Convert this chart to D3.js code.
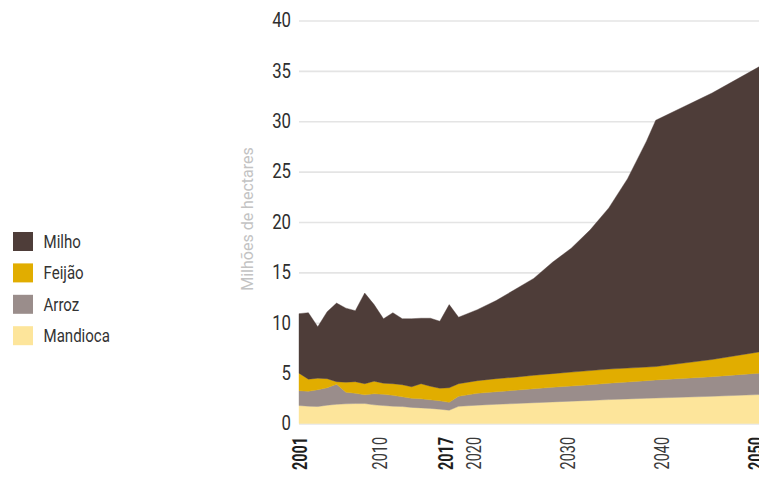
<!DOCTYPE html>
<html>
<head>
<meta charset="utf-8">
<script src="https://cdn.jsdelivr.net/npm/d3@7/dist/d3.min.js"></script>
<style>
  html, body { margin: 0; padding: 0; background: #fff; }
  svg { display: block; }
</style>
</head>
<body>
<svg id="chart" width="759" height="479"></svg>
<script>
// ---- Data (millions of hectares) ----
const years    = [2001,2002,2003,2004,2005,2006,2007,2008,2009,2010,2011,2012,2013,2014,2015,2016,2017,2018,
                  2020,2022,2024,2026,2028,2030,2032,2034,2036,2038,2039,2045,2050];
const milho    = [5.9,6.6,5.1,6.65,7.8,7.35,7.05,9.0,7.6,6.4,7.05,6.55,6.75,6.5,6.75,6.65,8.25,6.6,
                  7.05,7.75,8.7,9.62,11.05,12.3,13.95,16.0,18.8,22.4,24.45,26.45,28.3];
const feijao   = [1.75,1.2,1.15,0.9,0.25,1.0,1.15,1.1,1.25,1.1,1.15,1.2,1.15,1.5,1.35,1.25,1.45,1.25,
                  1.25,1.3,1.3,1.33,1.35,1.38,1.4,1.4,1.38,1.35,1.33,1.7,2.1];
const arroz    = [1.47,1.48,1.67,1.73,2.0,1.15,1.02,0.87,1.1,1.12,1.08,0.97,0.9,0.9,0.85,0.83,0.78,1.0,
                  1.18,1.25,1.32,1.39,1.46,1.5,1.56,1.63,1.68,1.75,1.79,1.95,2.13];
const mandioca = [1.78,1.72,1.68,1.82,1.9,1.95,1.98,1.98,1.85,1.78,1.72,1.68,1.6,1.55,1.5,1.42,1.32,1.7,
                  1.82,1.9,1.98,2.06,2.14,2.22,2.29,2.37,2.44,2.5,2.53,2.7,2.87];

const seriesKeys   = ["Mandioca", "Arroz", "Feijão", "Milho"];           // stack order (bottom → top)
const legendKeys   = ["Milho", "Feijão", "Arroz", "Mandioca"];           // legend order (top → bottom)
const seriesColors = {"Milho": "#4e3d39", "Feijão": "#e1ad00", "Arroz": "#9a8d8b", "Mandioca": "#fde59b"};
const yTicks       = [0, 5, 10, 15, 20, 25, 30, 35, 40];
const xTicks       = [2001, 2010, 2017, 2020, 2030, 2040, 2050];
const boldTicks    = [2001, 2017, 2050];
const yTitle       = "Milhões de hectares";

// ---- Build table ----
const table = years.map((yr, i) => ({
  year: yr, "Milho": milho[i], "Feijão": feijao[i], "Arroz": arroz[i], "Mandioca": mandioca[i]
}));

const FONT = "Roboto, 'Noto Sans', sans-serif";
// emulate a condensed face by compressing glyphs horizontally along the text direction
function condense(sel, f) {
  sel.each(function () {
    const L = this.getComputedTextLength();
    d3.select(this).attr("textLength", L * f).attr("lengthAdjust", "spacingAndGlyphs");
  });
}

const svg = d3.select("#chart");
const x = d3.scaleLinear().domain([2001, 2050]).range([299, 759]);
const y = d3.scaleLinear().domain([0, 40]).range([423.5, 20.5]);

// gridlines
const grid = svg.append("g").attr("transform", `translate(${x.range()[0]},0)`)
  .call(d3.axisLeft(y).tickValues(yTicks).tickSize(-(x.range()[1] - x.range()[0])).tickFormat(""));
grid.select(".domain").remove();
grid.selectAll("line").attr("stroke", "#e4e4e4").attr("stroke-width", 1.6);

// stacked areas
const stacked = d3.stack().keys(seriesKeys)(table);
const area = d3.area()
  .x(d => x(d.data.year))
  .y0(d => y(d[0]))
  .y1(d => y(d[1]));
svg.append("g").selectAll("path").data(stacked).join("path")
  .attr("d", area)
  .attr("fill", d => seriesColors[d.key])
  .attr("stroke", d => seriesColors[d.key])
  .attr("stroke-width", 0.4);

// y axis labels
const yAxis = svg.append("g").attr("transform", "translate(291,0)")
  .call(d3.axisLeft(y).tickValues(yTicks).tickSize(0).tickPadding(0));
yAxis.select(".domain").remove();
yAxis.attr("font-family", FONT).attr("font-size", 19.5);
const yTexts = yAxis.selectAll("text").attr("fill", "#2e2e2e");
condense(yTexts, 0.86);

// y title
svg.append("text")
  .attr("transform", `translate(253,${(145 + 293) / 2}) rotate(-90)`)
  .attr("text-anchor", "middle")
  .attr("font-family", FONT)
  .attr("font-size", 16)
  .attr("fill", "#c3c3c3")
  .text(yTitle);

// x axis labels
const xAxis = svg.append("g").attr("transform", "translate(0,437)")
  .call(d3.axisBottom(x).tickValues(xTicks).tickSize(0).tickFormat(d3.format("d")));
xAxis.select(".domain").remove();
xAxis.attr("font-family", FONT).attr("font-size", 20);
const xTexts = xAxis.selectAll("text")
  .attr("transform", "rotate(-90)")
  .attr("text-anchor", "end")
  .attr("x", 0)
  .attr("y", d => d === 2001 ? 7.5 : 3.5)
  .attr("dy", 0)
  .attr("font-weight", d => boldTicks.includes(d) ? "bold" : "normal")
  .attr("fill", d => boldTicks.includes(d) ? "#1e1e1e" : "#3a3a3a");
condense(xTexts, 0.72);

// legend
const legend = svg.append("g").attr("transform", "translate(13,232)")
  .attr("font-family", FONT).attr("font-size", 17.5);
const item = legend.selectAll("g").data(legendKeys).join("g")
  .attr("transform", (d, i) => `translate(0,${i * 31.4})`);
item.append("rect").attr("width", 20).attr("height", 19).attr("fill", d => seriesColors[d]);
const legTexts = item.append("text").attr("x", 30.5).attr("y", 9.5).attr("dy", "0.36em")
  .attr("fill", "#333").text(d => d);
condense(legTexts, 0.86);
</script>
</body>
</html>
